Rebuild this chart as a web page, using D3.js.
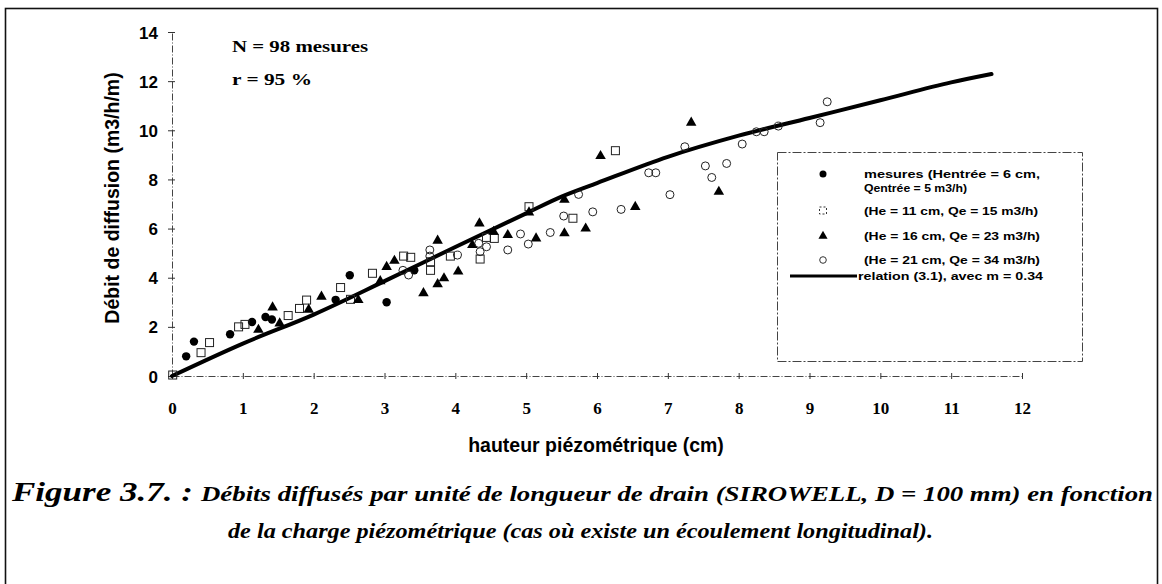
<!DOCTYPE html>
<html><head><meta charset="utf-8">
<script src="https://cdn.jsdelivr.net/npm/d3@7"></script>
<style>body{margin:0;background:#fff}svg{display:block}</style>
</head><body>
<svg id="c" width="1162" height="584"></svg>
<script>
// ---- data ----
const xTicks = [0,1,2,3,4,5,6,7,8,9,10,11,12];
const yTicks = [0,2,4,6,8,10,12,14];
const s1 = [[0.2,0.8],[0.31,1.4],[0.82,1.7],[1.13,2.2],[1.32,2.4],[1.41,2.3],[2.31,3.1],[2.51,4.1],[3.03,3.0],[3.42,4.3]];
const s2 = [[0.01,0.04],[0.41,0.95],[0.53,1.36],[0.94,2.0],[1.03,2.1],[1.64,2.46],[1.8,2.75],[1.9,3.09],[2.38,3.6],[2.52,3.12],[2.83,4.18],[3.27,4.88],[3.37,4.83],[3.65,4.65],[3.65,4.3],[3.93,4.88],[4.35,4.76],[4.44,5.64],[4.55,5.6],[5.04,6.89],[5.66,6.42],[6.26,9.17]];
const s3 = [[1.22,1.88],[1.42,2.79],[1.52,2.14],[1.93,2.7],[2.11,3.23],[2.63,3.09],[2.94,3.86],[3.03,4.44],[3.14,4.69],[3.55,3.37],[3.75,3.74],[3.84,3.98],[3.75,5.51],[4.04,4.25],[4.24,5.33],[4.34,6.21],[4.54,5.87],[4.74,5.74],[5.04,6.66],[5.14,5.6],[5.54,7.17],[5.54,5.81],[5.84,6.0],[6.05,8.95],[6.54,6.88],[7.33,10.31],[7.72,7.5]];
const s4 = [[3.26,4.3],[3.34,4.11],[3.64,5.13],[3.64,4.88],[4.03,4.92],[4.33,5.4],[4.35,5.06],[4.44,5.26],[4.74,5.13],[4.92,5.78],[5.03,5.37],[5.34,5.84],[5.53,6.51],[5.74,7.39],[5.94,6.68],[6.34,6.78],[6.73,8.27],[6.83,8.27],[7.03,7.38],[7.24,9.33],[7.53,8.55],[7.62,8.08],[7.83,8.65],[8.05,9.44],[8.25,9.94],[8.36,9.94],[8.56,10.17],[9.15,10.31],[9.25,11.16]];
const fitLine = [[0,0],[1,1.32],[2,2.5],[3,3.86],[4,5.25],[5,6.62],[5.5,7.3],[6,7.85],[7,8.92],[8,9.78],[9,10.5],[10,11.22],[11,11.95],[11.57,12.29]];
const legendLabels = [["mesures (Hentrée = 6 cm,","Qentrée = 5 m3/h)"],["(He = 11 cm, Qe = 15 m3/h)"],["(He = 16 cm, Qe = 23 m3/h)"],["(He = 21 cm, Qe = 34 m3/h)"],["relation (3.1), avec m = 0.34"]];
const annotations = ["N = 98 mesures","r = 95 %"];
const xTitle = "hauteur piézométrique (cm)";
const yTitle = "Débit de diffusion (m3/h/m)";
const captionA = "Figure 3.7. :";
const captionB = "Débits diffusés par unité de longueur de drain (SIROWELL, D = 100 mm) en fonction";
const captionC = "de la charge piézométrique (cas où existe un écoulement longitudinal).";

// ---- drawing ----
const svg = d3.select("#c");
const SANS = "'Liberation Sans', Arial, sans-serif";
const SERIF = "'Liberation Serif', 'Times New Roman', serif";
const x = d3.scaleLinear().domain([0,12]).range([172,1022]);
const y = d3.scaleLinear().domain([0,14]).range([376,32]);

// frame
svg.append("rect").attr("x",5.5).attr("y",8.5).attr("width",1152).attr("height",600)
  .attr("fill","none").attr("stroke","#111").attr("stroke-width",1.6);

// axes
const gx = svg.append("g").attr("transform","translate(0,376)")
  .call(d3.axisBottom(x).tickValues(xTicks).tickSize(0).tickFormat(""));
const gy = svg.append("g").attr("transform","translate(172,0)")
  .call(d3.axisLeft(y).tickValues(yTicks).tickSize(0).tickFormat(""));
[gx,gy].forEach(g=>{
  g.select(".domain").attr("stroke","#444").attr("stroke-width",1).attr("stroke-dasharray","7,2,1,2");
});
gx.selectAll(".tick line").attr("y1",-3).attr("y2",3).attr("stroke","#333");
gy.selectAll(".tick line").attr("x1",-4).attr("x2",3).attr("stroke","#333");
gx.selectAll(".tick").append("text").text(d=>d)
  .attr("y",38).attr("fill","#000").attr("text-anchor","middle")
  .style("font-family",SERIF).style("font-weight","bold").style("font-size","17px");
gy.selectAll(".tick").append("text").text(d=>d)
  .attr("x",-14).attr("dy","0.36em").attr("fill","#000").attr("text-anchor","end")
  .style("font-family",SANS).style("font-weight","bold").style("font-size","17px");

// axis titles
svg.append("text").text(xTitle).attr("x",596).attr("y",452).attr("text-anchor","middle")
  .style("font-family",SANS).style("font-weight","bold").style("font-size","19.5px");
svg.append("text").text(yTitle).attr("transform","translate(119,198) rotate(-90)").attr("text-anchor","middle")
  .style("font-family",SANS).style("font-weight","bold").style("font-size","19.5px");

// annotations
const annW = [136,80];
annotations.forEach((t,i)=>{
  svg.append("text").text(t).attr("x",232).attr("y",52+i*33).attr("textLength",annW[i]).attr("lengthAdjust","spacingAndGlyphs")
    .style("font-family",SERIF).style("font-weight","bold").style("font-size","17px");
});

// fit line
const line = d3.line().x(d=>x(d[0])).y(d=>y(d[1])).curve(d3.curveMonotoneX);
svg.append("path").datum(fitLine).attr("d",line).attr("fill","none")
  .attr("stroke","#000").attr("stroke-width",4).attr("stroke-linecap","round");

// markers
const gm = svg.append("g");
const tri = d3.symbol().type(d3.symbolTriangle).size(48);
gm.selectAll(".s1").data(s1).join("circle").attr("cx",d=>x(d[0])).attr("cy",d=>y(d[1])).attr("r",4.2).attr("fill","#000");
gm.selectAll(".s2").data(s2).join("rect").attr("x",d=>x(d[0])-4).attr("y",d=>y(d[1])-4).attr("width",8).attr("height",8)
  .attr("fill","none").attr("stroke","#222").attr("stroke-width",1);
gm.selectAll(".s3").data(s3).join("path").attr("d",tri).attr("transform",d=>`translate(${x(d[0])},${y(d[1])})`).attr("fill","#000");
gm.selectAll(".s4").data(s4).join("circle").attr("cx",d=>x(d[0])).attr("cy",d=>y(d[1])).attr("r",4).attr("fill","none")
  .attr("stroke","#222").attr("stroke-width",1);

// legend
const lg = svg.append("g");
lg.append("rect").attr("x",777.5).attr("y",152.5).attr("width",305).attr("height",209).attr("fill","#fff")
  .attr("stroke","#444").attr("stroke-width",1).attr("stroke-dasharray","9,2,2,2");
const ly = [174,211,236,260,276];
const lw = [[176,103],[174],[176],[176],[185]];
const lf = v=>lg.append("text").attr("x",864).style("font-family",SANS).style("font-weight","bold").style("font-size","10.5px");
lg.append("circle").attr("cx",823).attr("cy",ly[0]).attr("r",3.5).attr("fill","#000");
lg.append("rect").attr("x",819.5).attr("y",ly[1]-4).attr("width",7).attr("height",7).attr("fill","none").attr("stroke","#333").attr("stroke-dasharray","2,2");
lg.append("path").attr("d",d3.symbol().type(d3.symbolTriangle).size(36)).attr("transform",`translate(823,${ly[2]})`).attr("fill","#000");
lg.append("circle").attr("cx",823).attr("cy",ly[3]).attr("r",3.3).attr("fill","none").attr("stroke","#333");
lg.append("line").attr("x1",790).attr("x2",857).attr("y1",ly[4]).attr("y2",ly[4]).attr("stroke","#000").attr("stroke-width",3);
legendLabels.forEach((lines,i)=>{
  lines.forEach((t,j)=>{
    lf().text(t).attr("x", i===4?858:864).attr("y",(i===0? ly[0]+4+j*14 : ly[i]+4))
      .attr("textLength",lw[i][j]).attr("lengthAdjust","spacingAndGlyphs");
  });
});

// caption
svg.append("text").text(captionA).attr("x",12).attr("y",501).attr("textLength",181).attr("lengthAdjust","spacingAndGlyphs")
  .style("font-family",SERIF).style("font-weight","bold").style("font-style","italic").style("font-size","28px");
svg.append("text").text(captionB).attr("x",201).attr("y",501).attr("textLength",952).attr("lengthAdjust","spacingAndGlyphs")
  .style("font-family",SERIF).style("font-weight","bold").style("font-style","italic").style("font-size","20.5px");
svg.append("text").text(captionC).attr("x",228).attr("y",538).attr("textLength",705).attr("lengthAdjust","spacingAndGlyphs")
  .style("font-family",SERIF).style("font-weight","bold").style("font-style","italic").style("font-size","20.5px");
</script>
</body></html>
